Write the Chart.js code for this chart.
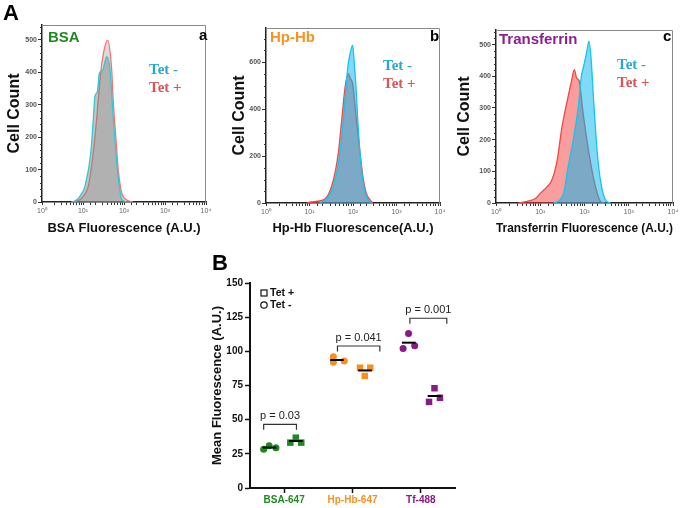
<!DOCTYPE html>
<html lang="en">
<head>
<meta charset="UTF-8">
<title>Fluorescence histograms and mean fluorescence</title>
<script src="https://cdn.jsdelivr.net/npm/chart.js"></script>
<style>
    body {
        margin: 0;
        background: #ffffff;
        width: 685px;
        height: 508px;
        position: relative;
        overflow: hidden;
    }
    canvas { position: absolute; }
</style>
</head>
<body>
<canvas id="histA" width="225" height="245" style="left:0;top:0"></canvas>
<canvas id="histB" width="230" height="245" style="left:225px;top:0"></canvas>
<canvas id="histC" width="235" height="245" style="left:450px;top:0"></canvas>
<canvas id="dots" width="280" height="258" style="left:195px;top:250px"></canvas>
<script>
// ---- histogram data (fluorescence A.U. -> cell count) ----
const logTickLabels = ['10⁰', '10¹', '10²', '10³', '10⁴'];

// a: BSA
const bsaMinusX = [5.2, 6.5, 7.8, 9.5, 11.2, 15.5, 17.8, 19.5, 22.4, 25.1, 30.2, 38, 45.7, 55, 69, 87, 105, 120];
const bsaMinusY = [0, 4, 12, 28, 49, 152, 253, 325, 340, 397, 407, 448, 407, 253, 100, 10, 2, 0];
const bsaPlusX = [6, 7.5, 8.5, 10.5, 13.5, 17.8, 21.4, 25.1, 28.8, 39.8, 50.1, 55, 63, 72.4, 87, 117, 141, 165];
const bsaPlusY = [0, 4, 8, 20, 49, 152, 253, 356, 428, 499, 407, 305, 202, 100, 30, 6, 2, 0];

// b: Hp-Hb
const hbMinusX = [17, 23, 35, 50, 60, 69, 78, 83, 98, 107, 117, 129, 145, 178, 224, 269];
const hbMinusY = [0, 13, 69, 213, 353, 495, 596, 623, 672, 596, 495, 353, 213, 69, 13, 0];
const hbPlusX = [8.9, 10.2, 21, 32, 46, 55, 66, 78, 87, 98, 120, 145, 174, 204, 282];
const hbPlusY = [0, 4, 13, 69, 213, 353, 495, 551, 530, 508, 353, 213, 97, 40, 0];

// c: Transferrin
const tfMinusX = [20, 28, 35, 41, 48, 56, 72, 85, 95, 112, 126, 141, 162, 195, 229, 302, 389];
const tfMinusY = [0, 10, 40, 100, 150, 200, 300, 400, 430, 475, 511, 455, 315, 157, 72, 8, 0];
const tfPlusX = [3.2, 5, 7.9, 10, 14, 18, 24, 31, 41, 50, 59, 66, 76, 89, 105, 138, 178, 229, 282];
const tfPlusY = [0, 5, 15, 30, 50, 70, 133, 240, 325, 380, 421, 395, 385, 305, 230, 125, 50, 5, 0];

// ---- B: mean fluorescence per replicate ----
const groups = ['BSA-647', 'Hp-Hb-647', 'Tf-488'];
const groupColors = ['#1f8a1f', '#f7901e', '#8a1a88'];
const tetMinusX = [0.70, 0.78, 0.88, 1.72, 1.72, 1.88, 2.74, 2.82, 2.91];
const tetMinusY = [28.3, 31, 29.5, 96, 92, 93, 102, 113, 104];
const tetPlusX = [1.09, 1.17, 1.25, 2.11, 2.18, 2.26, 3.12, 3.20, 3.28];
const tetPlusY = [33.2, 36.8, 33.2, 88, 82, 88, 63, 73, 66];
const pValues = ['p = 0.03', 'p = 0.041', 'p = 0.001'];
const bracketX = [[0.70, 1.18], [1.78, 2.40], [2.84, 3.38]];
const bracketY = [46.6, 103.9, 124.2];

Chart.defaults.font.family = '"Liberation Sans", Arial, sans-serif';

const toPoints = (xs, ys) => xs.map((x, i) => ({ x: x, y: ys[i] }));

// free text labels drawn at canvas positions
function notes(list) {
    return {
        id: 'notes',
        afterDraw(chart) {
            const { ctx } = chart;
            ctx.save();
            ctx.textAlign = 'left';
            ctx.textBaseline = 'alphabetic';
            list.forEach(n => {
                ctx.font = n.font;
                ctx.fillStyle = n.color;
                ctx.fillText(n.text, n.x, n.y);
            });
            ctx.restore();
        }
    };
}

// grey top/right frame of the histogram boxes
const frame = {
    id: 'frame',
    afterDraw(chart) {
        const { ctx, chartArea: a } = chart;
        ctx.save();
        ctx.strokeStyle = '#8a8a8a';
        ctx.lineWidth = 1;
        ctx.beginPath();
        ctx.moveTo(a.left, a.top + 0.5);
        ctx.lineTo(a.right - 0.5, a.top + 0.5);
        ctx.lineTo(a.right - 0.5, a.bottom);
        ctx.stroke();
        ctx.restore();
    }
};

// short minor ticks on the count axis
function minorTicks(step, major) {
    return {
        id: 'minorTicks',
        afterDraw(chart) {
            const { ctx, scales: { y }, chartArea } = chart;
            ctx.save();
            ctx.strokeStyle = '#333';
            ctx.lineWidth = 1;
            for (let v = step; v < y.max; v += step) {
                if (v % major === 0) continue;
                const py = Math.round(y.getPixelForValue(v)) + 0.5;
                ctx.beginPath();
                ctx.moveTo(chartArea.left - 2, py);
                ctx.lineTo(chartArea.left, py);
                ctx.stroke();
            }
            ctx.restore();
        }
    };
}

function histChart(id, o) {
    return new Chart(document.getElementById(id), {
        type: 'line',
        data: {
            datasets: [
                {
                    label: 'Tet -',
                    data: toPoints(o.minusX, o.minusY),
                    borderColor: o.minusLine,
                    backgroundColor: o.minusFill,
                    fill: 'origin',
                    borderWidth: 1.3,
                    pointRadius: 0,
                    cubicInterpolationMode: 'monotone'
                },
                {
                    label: 'Tet +',
                    data: toPoints(o.plusX, o.plusY),
                    borderColor: o.plusLine,
                    backgroundColor: o.plusFill,
                    fill: 'origin',
                    borderWidth: 1.3,
                    pointRadius: 0,
                    cubicInterpolationMode: 'monotone'
                }
            ]
        },
        options: {
            responsive: false,
            animation: false,
            devicePixelRatio: 1,
            layout: { padding: { left: 0, top: o.top, right: o.right, bottom: 0 } },
            plugins: { legend: { display: false }, tooltip: { enabled: false } },
            scales: {
                x: {
                    type: 'logarithmic',
                    min: 1,
                    max: 10000,
                    afterFit: s => { s.height = o.xAxisH; },
                    border: { color: '#222', width: 1.5 },
                    grid: { drawOnChartArea: false, tickLength: 3, color: '#333' },
                    ticks: {
                        autoSkip: false,
                        maxRotation: 0,
                        padding: 2,
                        color: '#666',
                        font: { size: 7 },
                        callback: v => {
                            const e = Math.round(Math.log10(v));
                            return Math.abs(v - Math.pow(10, e)) < 1e-6 ? logTickLabels[e] : '';
                        }
                    },
                    title: {
                        display: true,
                        text: o.xTitle,
                        color: '#111',
                        font: { size: 13, weight: 'bold' },
                        padding: 9
                    }
                },
                y: {
                    min: 0,
                    max: o.yMax,
                    afterFit: s => { s.width = o.yAxisW; },
                    border: { color: '#222', width: 1.5 },
                    grid: { drawOnChartArea: false, tickLength: 4, color: '#333' },
                    ticks: {
                        stepSize: o.yStep,
                        includeBounds: false,
                        padding: 1,
                        color: '#555',
                        font: { size: 7, weight: 'bold' }
                    },
                    title: {
                        display: true,
                        text: 'Cell Count',
                        color: '#111',
                        font: { size: 16, weight: 'bold' },
                        padding: 5
                    }
                }
            }
        },
        plugins: [frame, minorTicks(o.yMinor, o.yStep), notes(o.notes)]
    });
}

const serifBold = 'bold 15px "Liberation Serif", "DejaVu Serif", serif';
const sansBold = 'bold 15px "Liberation Sans", Arial, sans-serif';

histChart('histA', {
    minusX: bsaMinusX, minusY: bsaMinusY, plusX: bsaPlusX, plusY: bsaPlusY,
    minusLine: '#2ccad4', minusFill: 'rgba(110,130,130,0.45)',
    plusLine: '#f27474', plusFill: 'rgba(195,160,160,0.42)',
    top: 25, right: 19, yAxisW: 42, xAxisH: 43,
    yMax: 546, yStep: 100, yMinor: 20,
    xTitle: 'BSA Fluorescence (A.U.)',
    notes: [
        { text: 'A', x: 3, y: 20, font: 'bold 22px "Liberation Sans", Arial', color: '#000' },
        { text: 'BSA', x: 48, y: 42, font: sansBold, color: '#1f8a1f' },
        { text: 'a', x: 199, y: 40, font: sansBold, color: '#000' },
        { text: 'Tet -', x: 149, y: 74, font: serifBold, color: '#27a8cf' },
        { text: 'Tet +', x: 149, y: 92, font: serifBold, color: '#da5656' }
    ]
});

histChart('histB', {
    minusX: hbMinusX, minusY: hbMinusY, plusX: hbPlusX, plusY: hbPlusY,
    minusLine: '#19c3ec', minusFill: 'rgba(0,182,238,0.5)',
    plusLine: '#f04848', plusFill: 'rgba(245,60,60,0.5)',
    top: 28, right: 15, yAxisW: 41, xAxisH: 42,
    yMax: 745, yStep: 200, yMinor: 50,
    xTitle: 'Hp-Hb Fluorescence(A.U.)',
    notes: [
        { text: 'Hp-Hb', x: 45, y: 42, font: sansBold, color: '#f7931e' },
        { text: 'b', x: 205, y: 41, font: sansBold, color: '#000' },
        { text: 'Tet -', x: 158, y: 70, font: serifBold, color: '#27a8cf' },
        { text: 'Tet +', x: 158, y: 88, font: serifBold, color: '#da5656' }
    ]
});

histChart('histC', {
    minusX: tfMinusX, minusY: tfMinusY, plusX: tfPlusX, plusY: tfPlusY,
    minusLine: '#19c3ec', minusFill: 'rgba(0,182,238,0.5)',
    plusLine: '#f04848', plusFill: 'rgba(245,60,60,0.5)',
    top: 30, right: 12, yAxisW: 46, xAxisH: 42,
    yMax: 546, yStep: 100, yMinor: 20,
    xTitle: 'Transferrin Fluorescence (A.U.)',
    notes: [
        { text: 'Transferrin', x: 49, y: 44, font: sansBold, color: '#8e1e8e' },
        { text: 'c', x: 213, y: 41, font: sansBold, color: '#000' },
        { text: 'Tet -', x: 167, y: 69, font: serifBold, color: '#27a8cf' },
        { text: 'Tet +', x: 167, y: 87, font: serifBold, color: '#da5656' }
    ]
});

// ---- panel B ----
const pointColors = tetMinusX.map((_, i) => groupColors[Math.floor(i / 3)]);

// mean bar for every group of three replicates
function meanSets(xs, ys) {
    const sets = [];
    for (let g = 0; g < groups.length; g++) {
        const gx = xs.slice(g * 3, g * 3 + 3);
        const gy = ys.slice(g * 3, g * 3 + 3);
        const cx = gx.reduce((a, b) => a + b, 0) / 3;
        const my = gy.reduce((a, b) => a + b, 0) / 3;
        sets.push({
            data: [{ x: cx - 0.1, y: my }, { x: cx + 0.1, y: my }],
            showLine: true, borderColor: '#000', borderWidth: 2, pointRadius: 0
        });
    }
    return sets;
}

const bracketSets = bracketX.map((bx, i) => ({
    data: [
        { x: bx[0], y: bracketY[i] - 4 }, { x: bx[0], y: bracketY[i] },
        { x: bx[1], y: bracketY[i] }, { x: bx[1], y: bracketY[i] - 4 }
    ],
    showLine: true, borderColor: '#333', borderWidth: 1.2, pointRadius: 0
}));

const pLabels = {
    id: 'pLabels',
    afterDatasetsDraw(chart) {
        const { ctx, scales: { x, y } } = chart;
        ctx.save();
        ctx.font = '11px "Liberation Sans", Arial, sans-serif';
        ctx.fillStyle = '#222';
        ctx.textAlign = 'center';
        ctx.textBaseline = 'middle';
        bracketX.forEach((bx, i) => {
            ctx.fillText(pValues[i], x.getPixelForValue((bx[0] + bx[1]) / 2), y.getPixelForValue(bracketY[i]) - 8);
        });
        ctx.restore();
    }
};

const legendB = {
    id: 'legendB',
    afterDraw(chart) {
        const { ctx, chartArea: a } = chart;
        ctx.save();
        ctx.strokeStyle = '#111';
        ctx.lineWidth = 1.2;
        ctx.strokeRect(a.left + 11, a.top + 7, 6, 6);
        ctx.beginPath();
        ctx.arc(a.left + 14, a.top + 22, 3.2, 0, Math.PI * 2);
        ctx.stroke();
        ctx.fillStyle = '#111';
        ctx.font = 'bold 10.5px "Liberation Sans", Arial, sans-serif';
        ctx.textBaseline = 'middle';
        ctx.fillText('Tet +', a.left + 20, a.top + 10);
        ctx.fillText('Tet -', a.left + 20, a.top + 22);
        ctx.restore();
    }
};

new Chart(document.getElementById('dots'), {
    type: 'scatter',
    data: {
        datasets: [
            ...meanSets(tetMinusX, tetMinusY),
            ...meanSets(tetPlusX, tetPlusY),
            ...bracketSets,
            {
                label: 'Tet -',
                data: toPoints(tetMinusX, tetMinusY),
                pointStyle: 'circle',
                pointRadius: 3.5,
                pointBackgroundColor: pointColors,
                pointBorderColor: pointColors,
                pointBorderWidth: 0
            },
            {
                label: 'Tet +',
                data: toPoints(tetPlusX, tetPlusY),
                pointStyle: 'rect',
                pointRadius: 4.6,
                pointBackgroundColor: pointColors,
                pointBorderColor: pointColors,
                pointBorderWidth: 0
            }
        ]
    },
    options: {
        responsive: false,
        animation: false,
        devicePixelRatio: 1,
        layout: { padding: { left: 0, top: 33, right: 20, bottom: 0 } },
        plugins: { legend: { display: false }, tooltip: { enabled: false } },
        scales: {
            x: {
                type: 'linear',
                min: 0.5,
                max: 3.5,
                afterFit: s => { s.height = 20; },
                afterBuildTicks: s => { s.ticks = groups.map((g, i) => ({ value: i + 1 })); },
                border: { color: '#111', width: 2 },
                grid: { drawOnChartArea: false, tickLength: 5, color: '#111', tickWidth: 1.5 },
                ticks: {
                    padding: 1,
                    maxRotation: 0,
                    callback: (v, i) => groups[i],
                    color: c => groupColors[c.index],
                    font: { size: 10, weight: 'bold' }
                }
            },
            y: {
                min: 0,
                max: 150,
                afterFit: s => { s.width = 55; },
                border: { color: '#111', width: 2 },
                grid: { drawOnChartArea: false, tickLength: 5, color: '#111', tickWidth: 1.5 },
                ticks: {
                    stepSize: 25,
                    padding: 2,
                    color: '#111',
                    font: { size: 10, weight: 'bold' }
                },
                title: {
                    display: true,
                    text: 'Mean Fluorescence (A.U.)',
                    color: '#111',
                    font: { size: 13, weight: 'bold' },
                    padding: 15
                }
            }
        }
    },
    plugins: [
        pLabels,
        legendB,
        notes([{ text: 'B', x: 17, y: 20, font: 'bold 22px "Liberation Sans", Arial', color: '#000' }])
    ]
});
</script>
</body>
</html>
